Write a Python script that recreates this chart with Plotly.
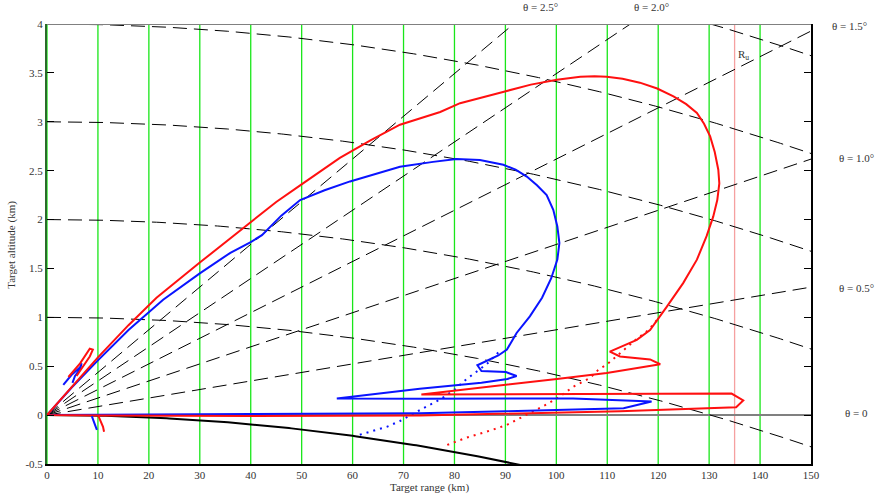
import numpy as np
import plotly.graph_objects as go

# ---- guide geometry -------------------------------------------------------
ELEVATIONS_DEG = [0.5, 1.0, 1.5, 2.0, 2.5]          # constant elevation rays
ALTITUDES_KM = [1, 2, 3, 4, 5]                       # constant altitude curves
EFFECTIVE_EARTH_RADIUS_KM = 8495.0                   # 4/3 earth model
GRID_RANGES_KM = [0, 10, 20, 30, 40, 50, 60, 70, 80, 90, 100, 110, 120, 130, 140]
UNAMBIGUOUS_RANGE_KM = 135

# ---- coverage contours (range km, altitude km) ----------------------------
blue_range = [0, 4.8, 9.8, 16, 22.8, 30, 36, 40, 42.2, 46, 49.7, 54.5, 59.5, 64.5, 69.3,
              75.8, 80.4, 85.0, 89.6, 92.0, 94.2, 96.2, 98.1, 99.4, 100.2, 100.6, 100.2,
              99.0, 97.2, 94.8, 92.2, 90.3, 88.6, 84.5, 85.3, 90.1, 92.2, 90.4,
              85.3, 73.2, 56.9, 73.2, 103.3, 118.7, 113.2, 90, 73.2, 40, 10, 0]
blue_alt = [0, 0.28, 0.55, 0.87, 1.18, 1.45, 1.66, 1.77, 1.84, 2.04, 2.20, 2.30, 2.39,
            2.47, 2.54, 2.59, 2.62, 2.61, 2.56, 2.51, 2.44, 2.35, 2.25, 2.10, 1.93,
            1.76, 1.59, 1.40, 1.20, 1.01, 0.84, 0.67, 0.61, 0.51, 0.45, 0.44, 0.40,
            0.37, 0.33, 0.27, 0.17, 0.168, 0.17, 0.14, 0.07, 0.04, 0.02, 0.012, 0.005, 0]

red_range = [0, 5, 10, 16, 21.5, 30, 40.8, 45, 49.7, 53.5, 57.5, 63.5, 69.3, 77.2, 81.1,
             89.9, 95, 100.1, 104.7, 107.5, 109.9, 113.0, 116.4, 119.8, 123.0, 125.5,
             127.6, 129.0, 130.2, 131.1, 131.8, 132.0, 131.6, 130.8, 129.5, 127.6,
             124.9, 121.7, 118.4, 115.8, 110.5, 112.5, 118.4, 120.4, 109.9, 100.1,
             73.5, 134.4, 136.7, 135.3, 112.5, 73.2, 40, 10, 0]
red_alt = [0, 0.30, 0.59, 0.92, 1.20, 1.56, 2.00, 2.18, 2.35, 2.49, 2.63, 2.81, 2.97, 3.10,
           3.19, 3.31, 3.38, 3.43, 3.46, 3.465, 3.46, 3.44, 3.40, 3.34, 3.26, 3.18,
           3.09, 2.98, 2.85, 2.69, 2.51, 2.37, 2.20, 2.03, 1.83, 1.59,
           1.35, 1.11, 0.87, 0.77, 0.65, 0.60, 0.57, 0.52, 0.43, 0.37,
           0.21, 0.22, 0.15, 0.08, 0.04, -0.005, -0.01, -0.005, 0]

# free-space continuation below the lowest lobes
blue_fs_range = [88.6, 86.5, 84.5, 82.4, 80.0, 77.2, 74.6, 71.9, 69.3, 66.7, 62.8, 60.8]
blue_fs_alt = [0.64, 0.53, 0.45, 0.37, 0.26, 0.16, 0.09, 0.01, -0.06, -0.12, -0.18, -0.21]
red_fs_range = [119.7, 118.1, 115.8, 114.5, 112.2, 110.2, 108.2, 106.6, 103.3, 100.7,
                98.1, 95.5, 92.9, 90.3, 86.3, 82.4, 77.8]
red_fs_alt = [0.97, 0.87, 0.78, 0.72, 0.62, 0.53, 0.46, 0.38, 0.29, 0.19,
              0.11, 0.04, -0.03, -0.10, -0.17, -0.23, -0.32]

# short lobes close to the radar
blue_lobe_range = [3.2, 4.8, 6.5, 6.8, 6.5, 5.5, 5.0]
blue_lobe_alt = [0.31, 0.41, 0.49, 0.53, 0.47, 0.40, 0.33]
red_lobe_range = [4.2, 6.5, 8.4, 9.0, 8.4, 6.8, 5.8]
red_lobe_alt = [0.39, 0.53, 0.68, 0.67, 0.60, 0.48, 0.40]
blue_hook_range = [8.8, 9.1, 9.5, 9.8]
blue_hook_alt = [-0.01, -0.06, -0.11, -0.15]
red_hook_range = [10.1, 10.6, 11.0, 11.2]
red_hook_alt = [-0.01, -0.07, -0.12, -0.17]

X_TICKS = list(range(0, 151, 10))
Y_TICKS = [-0.5, 0, 0.5, 1, 1.5, 2, 2.5, 3, 3.5, 4]
Y_TICK_TEXT = ["-0.5", "0", "0.5", "1", "1.5", "2", "2.5", "3", "3.5", "4"]

X_RANGE = [0, 150]
Y_RANGE = [-0.5, 4]

FONT = "Liberation Serif, Times New Roman, serif"
TEXT_COLOR = "#333333"
BLUE = "#0a14ff"
RED = "#ff1010"

fig = go.Figure()

# vertical range grid and unambiguous-range marker
shapes = []
for r in GRID_RANGES_KM:
    shapes.append(dict(type="line", xref="x", yref="y", x0=r, x1=r, y0=-0.5, y1=4,
                       line=dict(color="#19e619", width=1.3), layer="below"))
shapes.append(dict(type="line", xref="x", yref="y", x0=UNAMBIGUOUS_RANGE_KM,
                   x1=UNAMBIGUOUS_RANGE_KM, y0=-0.5, y1=4,
                   line=dict(color="#f5a0a0", width=1.3), layer="below"))
# horizon level and upper frame
shapes.append(dict(type="line", xref="x", yref="y", x0=0, x1=150, y0=0, y1=0,
                   line=dict(color="#808080", width=2), layer="below"))
shapes.append(dict(type="line", xref="x", yref="y", x0=0, x1=150, y0=4, y1=4,
                   line=dict(color="#808080", width=2), layer="above"))

dash_style = dict(color="black", width=1, dash="14px,7px")
r = np.linspace(0, 150, 301)
two_ka = 2 * EFFECTIVE_EARTH_RADIUS_KM

for el in ELEVATIONS_DEG:
    fig.add_trace(go.Scatter(x=[0, 150], y=[0, 150 * np.tan(np.radians(el))],
                             mode="lines", line=dash_style, hoverinfo="skip"))
for h in ALTITUDES_KM:
    fig.add_trace(go.Scatter(x=r, y=h - r ** 2 / two_ka, mode="lines",
                             line=dash_style, hoverinfo="skip"))

# earth surface
fig.add_trace(go.Scatter(x=r, y=-r ** 2 / two_ka, mode="lines",
                         line=dict(color="black", width=2)))

# free-space continuations (dotted)
fig.add_trace(go.Scatter(x=blue_fs_range, y=blue_fs_alt, mode="lines",
                         line=dict(color=BLUE, width=2, dash="2px,5px")))
fig.add_trace(go.Scatter(x=red_fs_range, y=red_fs_alt, mode="lines",
                         line=dict(color=RED, width=2, dash="2px,5px")))

# coverage contours
for xs, ys, c in [(blue_range, blue_alt, BLUE), (red_range, red_alt, RED),
                  (blue_lobe_range, blue_lobe_alt, BLUE), (red_lobe_range, red_lobe_alt, RED),
                  (blue_hook_range, blue_hook_alt, BLUE), (red_hook_range, red_hook_alt, RED)]:
    fig.add_trace(go.Scatter(x=xs, y=ys, mode="lines", line=dict(color=c, width=2)))

# right-hand frame with inner ticks
fig.add_trace(go.Scatter(x=[150], y=[0], yaxis="y2", mode="markers",
                         marker=dict(opacity=0), hoverinfo="skip"))

annotations = []
def label(text, x, y, xref="x", yref="y", **kw):
    annotations.append(dict(text=text, x=x, y=y, xref=xref, yref=yref, showarrow=False,
                            xanchor="center", yanchor="middle",
                            font=dict(family=FONT, size=11, color=TEXT_COLOR), **kw))

label("θ = 2.5°", 96.9, 1.038, yref="paper")
label("θ = 2.0°", 118.6, 1.038, yref="paper")
label("θ = 1.5°", 1.051, 3.975, xref="paper")
label("θ = 1.0°", 1.060, 2.63, xref="paper")
label("θ = 0.5°", 1.060, 1.30, xref="paper")
label("θ = 0", 1.060, 0.02, xref="paper")
label("R<sub>u</sub>", 136.7, 3.68)
label("Target range (km)", 0.501, -0.054, xref="paper", yref="paper")
label("Target altitude (km)", -0.046, 0.498, xref="paper", yref="paper", textangle=-90)

fig.update_layout(
    width=880, height=498,
    margin=dict(l=47, r=69, t=24, b=34),
    paper_bgcolor="white", plot_bgcolor="white",
    showlegend=False,
    shapes=shapes, annotations=annotations,
    font=dict(family=FONT, size=11, color=TEXT_COLOR),
    xaxis=dict(range=X_RANGE, tickvals=X_TICKS, showgrid=False, zeroline=False,
               showline=True, linecolor="black", linewidth=1.5, ticks="",
               ticklen=0, tickfont=dict(family=FONT, size=11, color=TEXT_COLOR)),
    yaxis=dict(range=Y_RANGE, tickvals=Y_TICKS, ticktext=Y_TICK_TEXT, showgrid=False,
               zeroline=False, showline=True, linecolor="#2a6b2a", linewidth=2,
               ticks="inside", ticklen=7, tickcolor="black",
               tickfont=dict(family=FONT, size=11, color=TEXT_COLOR)),
    yaxis2=dict(range=Y_RANGE, overlaying="y", side="right", tickvals=Y_TICKS,
                showticklabels=False, showgrid=False, zeroline=False, showline=True,
                linecolor="black", linewidth=1.5, ticks="inside", ticklen=7,
                tickcolor="black"),
)

fig.write_html("out.html")
